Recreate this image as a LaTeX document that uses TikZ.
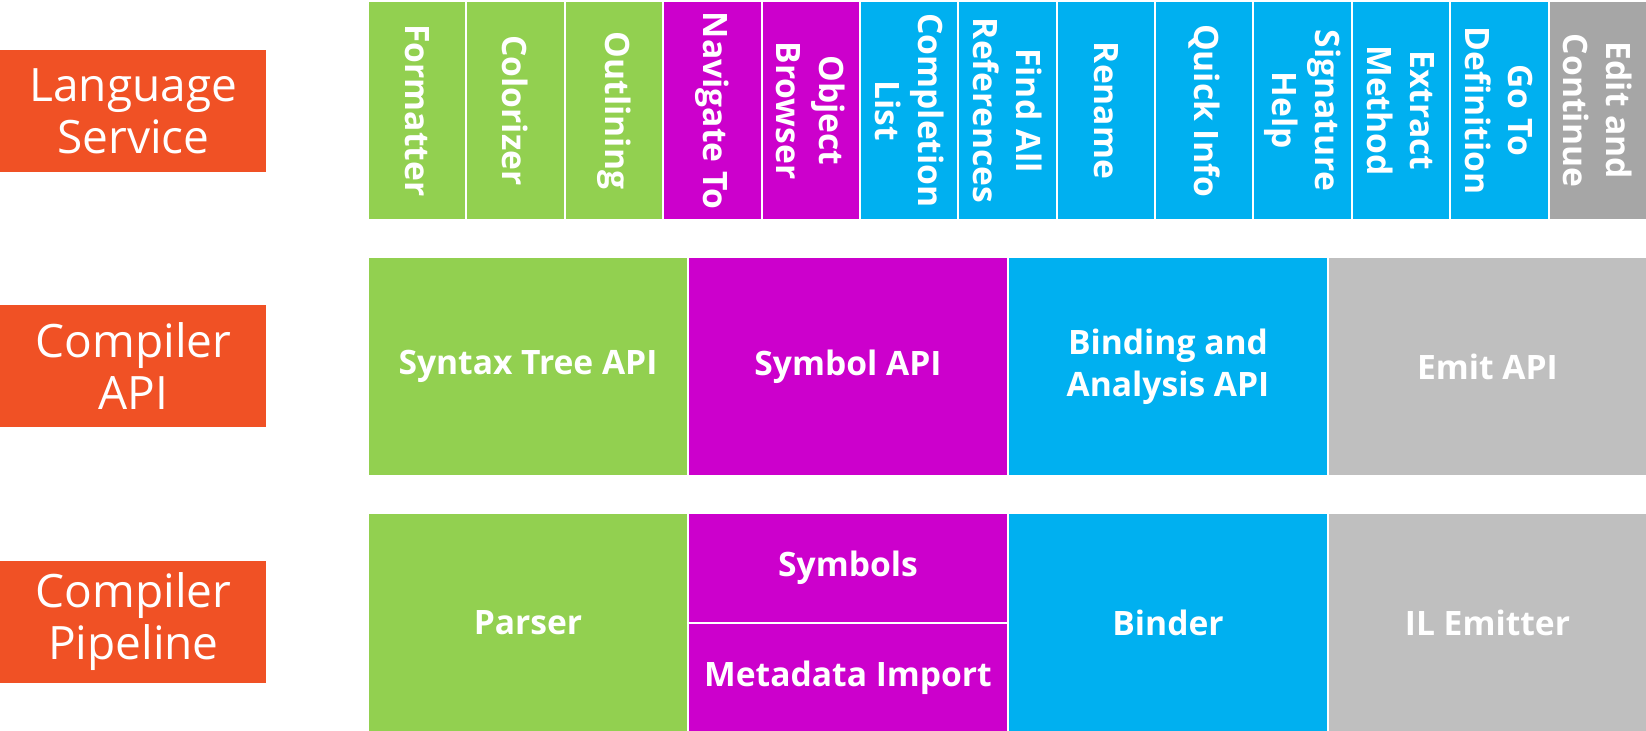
\documentclass[tikz,border=0pt]{standalone}
\usepackage{fontspec}
\setmainfont{Open Sans}
\usepackage{xcolor}
\usepackage{tikz}

\definecolor{lsorange}{HTML}{F05125}
\definecolor{lsgreen}{HTML}{92D050}
\definecolor{lsmagenta}{HTML}{CC00CC}
\definecolor{lsblue}{HTML}{00B0F0}
\definecolor{lsgraydark}{HTML}{A6A6A6}
\definecolor{lsgray}{HTML}{BFBFBF}

\begin{document}
\begin{tikzpicture}%
	[x=0.5pt, y=-0.5pt,
	tile/.style={draw=white, line width=1pt, inner sep=0pt, anchor=north west, text=white, align=center, font=\bfseries\fontsize{16.8}{21}\selectfont},
	vlabel/.style={rotate=-90, inner sep=0pt, text=white, align=center, font=\bfseries\fontsize{16.8}{21.5}\selectfont},
	layer/.style={fill=lsorange, inner sep=0pt, anchor=west, minimum width=133pt, minimum height=61pt, text=white, align=center, font=\fontsize{23}{26}\selectfont}]
%
\useasboundingbox (0,0) rectangle (1646,731);
%
%% Layer names on the left
%%
\node[layer] (langservice) at (0,111) {Language\\Service};
\node[layer] (compilerapi) at (0,366) {Compiler\\API};
\node[layer] (pipeline) at (0,622) {Compiler\\Pipeline};
%%
%%
%% Language service features (one narrow column each)
%%
\foreach \tname/\ttext/\tcol [count=\i from 0] in {formatter/Formatter/lsgreen, colorizer/Colorizer/lsgreen, outlining/Outlining/lsgreen, navigate/Navigate To/lsmagenta, browser/{Object\\Browser}/lsmagenta, completion/{Completion\\List}/lsblue, findref/{Find All\\References}/lsblue, rename/Rename/lsblue, quickinfo/Quick Info/lsblue, sighelp/{Signature\\Help}/lsblue, extract/{Extract\\Method}/lsblue, gotodef/{Go To\\Definition}/lsblue, editcont/{Edit and\\Continue}/lsgraydark}
{
	\node[tile, fill=\tcol, minimum width=49.19pt, minimum height=109.5pt] (\tname) at ({367+\i*98.3846},0) {};
	\node[vlabel] (\tname-txt) at (\tname.center) {\ttext};
}
%%
%%
%% Compiler API
%%
\node[tile, fill=lsgreen, minimum width=160pt, minimum height=109.5pt] (syntaxapi) at (367,256) {Syntax Tree API};
\node[tile, fill=lsmagenta, minimum width=160pt, minimum height=109.5pt] (symbolapi) at (687,256) {Symbol API};
\node[tile, fill=lsblue, minimum width=160pt, minimum height=109.5pt] (bindingapi) at (1007,256) {Binding and\\Analysis API};
\node[tile, fill=lsgray, minimum width=159.5pt, minimum height=109.5pt] (emitapi) at (1327,256) {Emit API};
%%
%%
%% Compiler pipeline
%%
\node[tile, fill=lsgreen, minimum width=160pt, minimum height=109.5pt] (parser) at (367,512) {Parser};
\node[tile, fill=lsmagenta, minimum width=160pt, minimum height=55pt] (symbols) at (687,512) {Symbols};
\node[tile, fill=lsmagenta, minimum width=160pt, minimum height=54.5pt] (metadata) at (687,622) {Metadata Import};
\node[tile, fill=lsblue, minimum width=160pt, minimum height=109.5pt] (binder) at (1007,512) {Binder};
\node[tile, fill=lsgray, minimum width=159.5pt, minimum height=109.5pt] (ilemitter) at (1327,512) {IL Emitter};
%%
\end{tikzpicture}
\end{document}
